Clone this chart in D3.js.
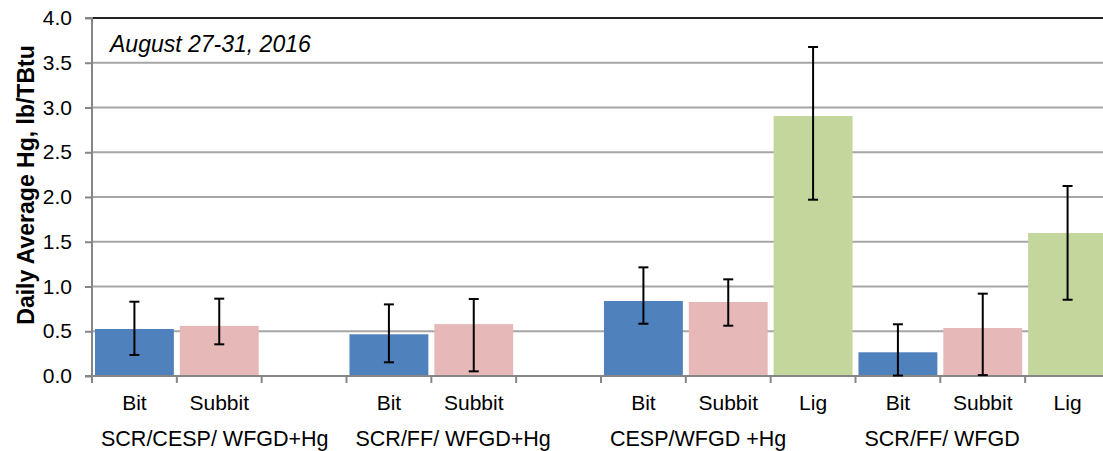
<!DOCTYPE html>
<html>
<head>
<meta charset="utf-8">
<script src="https://cdn.jsdelivr.net/npm/d3@7"></script>
<style>
  html, body { margin: 0; padding: 0; background: #fff; overflow: hidden; }
  svg { display: block; font-family: "Liberation Sans", Arial, sans-serif; }
</style>
</head>
<body>
<svg id="chart" width="1103" height="451"></svg>
<script>
// Daily average Hg emissions by control configuration and coal rank
const groups = ["SCR/CESP/ WFGD+Hg", "SCR/FF/ WFGD+Hg", "CESP/WFGD +Hg", "SCR/FF/ WFGD"];
const groupSize = 3;
const coalTypes = ["Bit", "Subbit", "", "Bit", "Subbit", "", "Bit", "Subbit", "Lig", "Bit", "Subbit", "Lig"];
const means   = [0.525, 0.56, null, 0.466, 0.58, null, 0.838, 0.827, 2.905, 0.265, 0.536, 1.598];
const errHigh = [0.83, 0.864, null, 0.80, 0.86, null, 1.214, 1.08, 3.676, 0.578, 0.92, 2.123];
const errLow  = [0.235, 0.354, null, 0.153, 0.052, null, 0.584, 0.562, 1.97, 0.005, 0.01, 0.852];
const yTicks = [0, 0.5, 1.0, 1.5, 2.0, 2.5, 3.0, 3.5, 4.0];
const title = "August 27-31, 2016";
const yTitle = "Daily Average Hg, lb/TBtu";

const colors = { Bit: "#4f81bd", Subbit: "#e6b9b8", Lig: "#c3d69b" };

const svg = d3.select("#chart");
const plotLeft = 92, plotRight = 1110, plotTop = 18, plotBottom = 376, viewRight = 1103;

const slots = d3.range(coalTypes.length);
const x = d3.scaleBand().domain(slots).range([plotLeft, plotRight]).paddingInner(0.07).paddingOuter(0.035);
const step = x.step();
const y = d3.scaleLinear().domain([0, 4]).range([plotBottom, plotTop]);

// horizontal gridlines
svg.append("g")
  .selectAll("line")
  .data(yTicks.filter(t => t > 0 && t < 4))
  .join("line")
  .attr("x1", plotLeft).attr("x2", viewRight)
  .attr("y1", d => y(d)).attr("y2", d => y(d))
  .attr("stroke", "#a6a6a6").attr("stroke-width", 2);

// top border of the plot
svg.append("line")
  .attr("x1", plotLeft).attr("x2", viewRight)
  .attr("y1", y(4)).attr("y2", y(4))
  .attr("stroke", "#222").attr("stroke-width", 2);

// bars
const data = slots.map(i => ({ i, type: coalTypes[i], v: means[i], hi: errHigh[i], lo: errLow[i] }))
  .filter(d => d.v != null);

svg.append("g")
  .selectAll("rect")
  .data(data)
  .join("rect")
  .attr("x", d => x(d.i))
  .attr("width", x.bandwidth())
  .attr("y", d => y(d.v))
  .attr("height", d => y(0) - y(d.v))
  .attr("fill", d => colors[d.type]);

// y axis
const yAxis = d3.axisLeft(y).tickValues(yTicks).tickFormat(d3.format(".1f")).tickSize(7).tickPadding(13);
const gy = svg.append("g").attr("transform", `translate(${plotLeft},0)`).call(yAxis);
gy.select(".domain").attr("stroke", "#868686").attr("stroke-width", 2).attr("d", `M-7,${y(4)}H0V${y(0)}H-7`);
gy.selectAll(".tick line").attr("stroke", "#868686").attr("stroke-width", 2);
gy.selectAll(".tick text").attr("font-size", 21).attr("fill", "#000")
  .attr("font-family", "'Liberation Sans', Arial, sans-serif");

// x axis baseline with slot boundary ticks
svg.append("line")
  .attr("x1", plotLeft).attr("x2", viewRight)
  .attr("y1", y(0)).attr("y2", y(0))
  .attr("stroke", "#868686").attr("stroke-width", 2);
svg.append("g")
  .selectAll("line")
  .data(d3.range(coalTypes.length + 1))
  .join("line")
  .attr("x1", i => plotLeft + i * step).attr("x2", i => plotLeft + i * step)
  .attr("y1", y(0)).attr("y2", y(0) + 7)
  .attr("stroke", "#868686").attr("stroke-width", 2);

// error bars
const eb = svg.append("g").attr("stroke", "#000").attr("stroke-width", 2);
data.forEach(d => {
  const cx = x(d.i) + x.bandwidth() / 2;
  eb.append("line").attr("x1", cx).attr("x2", cx).attr("y1", y(d.hi)).attr("y2", y(d.lo));
  eb.append("line").attr("x1", cx - 5).attr("x2", cx + 5).attr("y1", y(d.hi)).attr("y2", y(d.hi));
  eb.append("line").attr("x1", cx - 5).attr("x2", cx + 5).attr("y1", y(d.lo)).attr("y2", y(d.lo));
});

// coal-rank labels
svg.append("g")
  .selectAll("text")
  .data(slots.filter(i => coalTypes[i]))
  .join("text")
  .attr("x", i => x(i) + x.bandwidth() / 2)
  .attr("y", 410)
  .attr("text-anchor", "middle")
  .attr("font-size", 21)
  .text(i => coalTypes[i]);

// configuration group labels
svg.append("g")
  .selectAll("text")
  .data(groups)
  .join("text")
  .attr("x", (g, k) => plotLeft + k * groupSize * step + 9)
  .attr("y", 446)
  .attr("font-size", 21.5)
  .text(g => g);

// date annotation
svg.append("text")
  .attr("x", 110).attr("y", 52)
  .attr("font-size", 23)
  .attr("font-style", "italic")
  .text(title);

// y-axis title
svg.append("text")
  .attr("transform", `translate(34,185) rotate(-90)`)
  .attr("text-anchor", "middle")
  .attr("font-size", 23)
  .attr("font-weight", "bold")
  .text(yTitle);
</script>
</body>
</html>
